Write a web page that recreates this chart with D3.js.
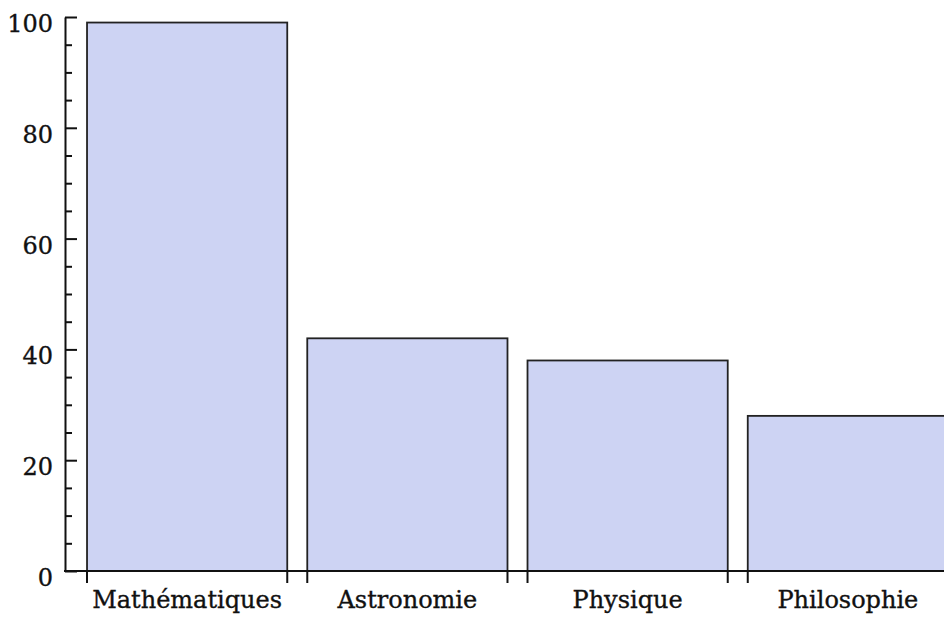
<!DOCTYPE html>
<html>
<head>
<meta charset="utf-8">
<script src="https://cdn.jsdelivr.net/npm/d3@7"></script>
<style>
  html, body { margin: 0; padding: 0; background: #fff; }
  svg { display: block; }
  .axis text { font-family: "DejaVu Serif", serif; font-size: 24px; fill: #111; stroke: #111; stroke-width: 0.35px; }
  .axis path, .axis line { stroke: #111; stroke-width: 2; }
</style>
</head>
<body>
<svg id="chart" width="944" height="618"></svg>
<script>
// Data
const categories = ['Mathématiques', 'Astronomie', 'Physique', 'Philosophie'];
const values = [99, 42, 38, 28];
const yTicks = [0, 20, 40, 60, 80, 100];
const yMinorTicks = d3.range(0, 101, 5).filter(v => v % 20 !== 0);

const width = 944, height = 618;
const svg = d3.select('#chart');

// Scales
const x = d3.scaleBand()
    .domain(categories)
    .range([65, 970])
    .paddingInner(0.0909)
    .paddingOuter(0.1);

const y = d3.scaleLinear()
    .domain([0, 100])
    .range([571, 17]);

// Bars
svg.append('g').selectAll('rect').data(values).join('rect')
    .attr('x', (d, i) => x(categories[i]))
    .attr('y', d => y(d))
    .attr('width', x.bandwidth())
    .attr('height', d => y(0) - y(d))
    .attr('fill', '#cdd3f3')
    .attr('stroke', '#222')
    .attr('stroke-width', 1.8);

// Y axis, major ticks pointing inward
const yAxisG = svg.append('g')
    .attr('class', 'axis')
    .attr('transform', `translate(65,0)`)
    .call(d3.axisLeft(y).tickValues(yTicks).tickSize(-12).tickSizeOuter(0).tickPadding(12));
yAxisG.selectAll('text').attr('dy', '0.6em');

// Minor ticks
svg.append('g')
    .attr('class', 'axis')
    .attr('transform', `translate(65,0)`)
    .call(d3.axisLeft(y).tickValues(yMinorTicks).tickSize(-7).tickSizeOuter(0).tickFormat(''))
    .select('.domain').remove();

// X axis line running to the right edge
svg.append('line')
    .attr('x1', 64).attr('x2', width)
    .attr('y1', y(0)).attr('y2', y(0))
    .attr('stroke', '#111').attr('stroke-width', 2);

// Ticks at each bar edge
const edges = categories.flatMap(c => [x(c), x(c) + x.bandwidth()]);
svg.append('g').selectAll('line').data(edges).join('line')
    .attr('x1', d => d).attr('x2', d => d)
    .attr('y1', y(0)).attr('y2', y(0) + 12)
    .attr('stroke', '#111').attr('stroke-width', 2);

// Category labels
svg.append('g').attr('class', 'axis').selectAll('text').data(categories).join('text')
    .attr('x', d => x(d) + x.bandwidth() / 2)
    .attr('y', 608)
    .attr('text-anchor', 'middle')
    .text(d => d);
</script>
</body>
</html>
